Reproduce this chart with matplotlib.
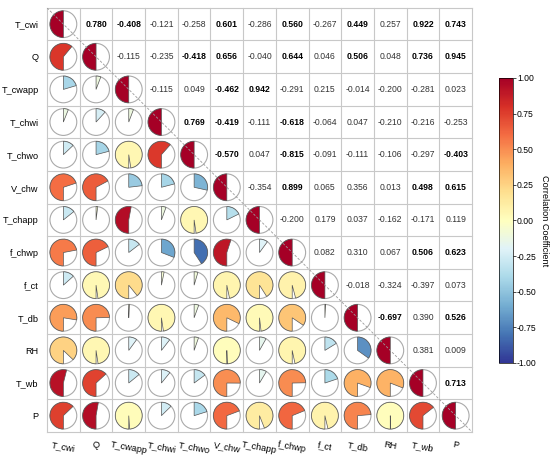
import numpy as np
import matplotlib
matplotlib.use('Agg')
import matplotlib.pyplot as plt
from matplotlib.patches import Wedge, Circle
from matplotlib.colors import Normalize
from matplotlib.colorbar import ColorbarBase

plt.rcParams['font.family'] = ['Liberation Sans', 'DejaVu Sans']

# variable names
labels = ['T_cwi', 'Q', 'T_cwapp', 'T_chwi', 'T_chwo', 'V_chw', 'T_chapp',
          'f_chwp', 'f_ct', 'T_db', 'RH', 'T_wb', 'P']

# upper triangle of the correlation matrix, row by row (values right of diagonal)
r_T_cwi = [0.780, -0.408, -0.121, -0.258, 0.601, -0.286, 0.560, -0.267, 0.449, 0.257, 0.922, 0.743]
r_Q = [-0.115, -0.235, -0.418, 0.656, -0.040, 0.644, 0.046, 0.506, 0.048, 0.736, 0.945]
r_T_cwapp = [-0.115, 0.049, -0.462, 0.942, -0.291, 0.215, -0.014, -0.200, -0.281, 0.023]
r_T_chwi = [0.769, -0.419, -0.111, -0.618, -0.064, 0.047, -0.210, -0.216, -0.253]
r_T_chwo = [-0.570, 0.047, -0.815, -0.091, -0.111, -0.106, -0.297, -0.403]
r_V_chw = [-0.354, 0.899, 0.065, 0.356, 0.013, 0.498, 0.615]
r_T_chapp = [-0.200, 0.179, 0.037, -0.162, -0.171, 0.119]
r_f_chwp = [0.082, 0.310, 0.067, 0.506, 0.623]
r_f_ct = [-0.018, -0.324, -0.397, 0.073]
r_T_db = [-0.697, 0.390, 0.526]
r_RH = [0.381, 0.009]
r_T_wb = [0.713]

upper_rows = [r_T_cwi, r_Q, r_T_cwapp, r_T_chwi, r_T_chwo, r_V_chw, r_T_chapp,
              r_f_chwp, r_f_ct, r_T_db, r_RH, r_T_wb]

n = len(labels)
corr = np.eye(n)
for i, row in enumerate(upper_rows):
    for k, v in enumerate(row):
        j = i + 1 + k
        corr[i, j] = v
        corr[j, i] = v

cmap = plt.get_cmap('RdYlBu_r')
norm = Normalize(vmin=-1, vmax=1)

fig = plt.figure(figsize=(5.5, 4.62), dpi=100)
ax = fig.add_axes([0.0855, 0.065, 0.7727, 0.918])

R = 0.41
for i in range(n):
    y = n - 1 - i
    for j in range(n):
        x = j
        r = corr[i, j]
        if j > i:
            big = abs(r) >= 0.4
            ax.text(x, y, f'{r:.3f}', ha='center', va='center', fontsize=6.2,
                    fontweight='bold' if big else 'normal',
                    color='black' if big else '#333333')
        else:
            ax.add_patch(Circle((x, y), R, facecolor='white', edgecolor='#aaaaaa',
                                lw=0.8, zorder=2))
            if r >= 0:
                t1, t2 = 270 + 180 * r, 630
            else:
                t1, t2 = 90 + 180 * r, 90
            ax.add_patch(Wedge((x, y), R, t1, t2, facecolor=cmap(norm(r)),
                               edgecolor='#555555', lw=0.5, zorder=3))

# grid lines
for k in range(n + 1):
    ax.axhline(k - 0.5, color='#c8c8c8', lw=0.8, zorder=1, clip_on=False)
    ax.axvline(k - 0.5, color='#c8c8c8', lw=0.8, zorder=1, clip_on=False)

# dashed diagonal
ax.plot([-0.5, n - 0.5], [n - 0.5, -0.5], ls=(0, (3, 2)), color='#999999',
        lw=0.6, zorder=5)

ax.set_xlim(-0.5, n - 0.5)
ax.set_ylim(-0.5, n - 0.5)
ax.set_aspect('auto')
for s in ax.spines.values():
    s.set_visible(False)

ax.set_yticks(range(n))
ax.set_yticklabels(labels[::-1], fontsize=6.6)
ax.set_xticks(range(n))
ax.set_xticklabels(labels, fontsize=6.6, rotation=-10, ha='center')
ax.tick_params(length=0, pad=6)

# colorbar
cax = fig.add_axes([0.907, 0.2143, 0.0255, 0.617])
cb = ColorbarBase(cax, cmap=cmap, norm=norm, ticks=np.arange(-1, 1.01, 0.25))
cb.ax.set_yticklabels([f'{t:.2f}' for t in np.arange(-1, 1.01, 0.25)], fontsize=6.2)
cb.ax.tick_params(length=2, width=0.5, pad=1)
cb.outline.set_linewidth(0.5)
cb.set_label('Correlation Coefficient', rotation=270, fontsize=6.6, labelpad=9)

fig.savefig('out.png', dpi=100)
